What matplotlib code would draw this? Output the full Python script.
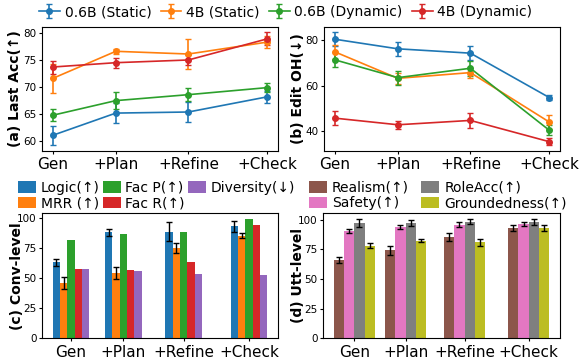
import numpy as np
import matplotlib.pyplot as plt

stages = ['Gen', '+Plan', '+Refine', '+Check']
xpos = np.array([0, 1, 2.15, 3.4])

# line panels: (mean, err) per model setting
series_names = ['0.6B (Static)', '4B (Static)', '0.6B (Dynamic)', '4B (Dynamic)']
series_colors = ['C0', 'C1', 'C2', 'C3']

acc_mean = [[61.1, 65.2, 65.4, 68.2],
            [71.6, 76.6, 76.1, 78.3],
            [64.8, 67.5, 68.6, 69.9],
            [73.7, 74.5, 75.0, 78.9]]
acc_err = [[1.8, 1.8, 1.8, 1.1],
           [2.7, 0.5, 2.8, 1.1],
           [1.1, 1.5, 1.2, 0.8],
           [1.2, 0.9, 1.0, 1.2]]

oh_mean = [[80.3, 76.1, 74.2, 54.8],
           [74.8, 63.2, 65.7, 44.1],
           [71.3, 63.5, 67.6, 40.5],
           [45.8, 42.9, 44.8, 35.5]]
oh_err = [[3.0, 3.0, 3.2, 1.2],
          [3.0, 2.5, 2.2, 3.0],
          [3.2, 3.1, 3.2, 2.2],
          [3.1, 1.8, 3.4, 1.6]]

# conversation-level bars
conv_names = ['Logic(↑)', 'MRR (↑)', 'Fac P(↑)', 'Fac R(↑)', 'Diversity(↓)']
conv_vals = [[63.3, 88.1, 88.9, 93.1],
             [45.9, 54.3, 75.4, 85.5],
             [82.2, 87.2, 88.9, 99.1],
             [57.7, 56.8, 63.6, 94.0],
             [57.7, 56.0, 53.5, 52.7]]
conv_err = [[2.8, 3.0, 8.0, 4.9],
            [4.9, 5.3, 4.0, 2.3],
            None, None, None]

# utterance-level bars
utt_names = ['Realism(↑)', 'Safety(↑)', 'RoleAcc(↑)', 'Groundedness(↑)']
utt_vals = [[65.6, 74.3, 85.3, 92.9],
            [90.6, 93.8, 95.7, 96.3],
            [97.1, 97.1, 98.0, 98.0],
            [78.0, 82.2, 80.8, 92.9]]
utt_err = [[2.5, 3.7, 3.4, 2.5],
           [1.7, 1.7, 2.3, 1.7],
           [3.0, 2.8, 2.1, 2.3],
           [2.3, 1.4, 3.1, 2.3]]

W, H = 582, 363
fig = plt.figure(figsize=(W / 100, H / 100), dpi=100)

def box(l, t, r, b):
    return [l / W, 1 - b / H, (r - l) / W, (b - t) / H]

ax_a = fig.add_axes(box(42, 26.7, 278, 150.7))
ax_b = fig.add_axes(box(324, 26.7, 560, 151))
ax_c = fig.add_axes(box(42, 213.3, 278, 338.3))
ax_d = fig.add_axes(box(323, 213.3, 560, 338.3))

for ax, means, errs in [(ax_a, acc_mean, acc_err), (ax_b, oh_mean, oh_err)]:
    for name, c, m, e in zip(series_names, series_colors, means, errs):
        ax.errorbar(xpos, m, yerr=e, color=c, marker='o', ms=4, lw=1.2,
                    elinewidth=1.2, capsize=2.5, label=name)

ax_a.set_yticks([60, 65, 70, 75, 80])
ax_b.set_yticks([40, 60, 80])

w = 0.14
for i, (name, v, e) in enumerate(zip(conv_names, conv_vals, conv_err)):
    ax_c.bar(xpos + (i - 2) * w, v, w, yerr=e, color='C%d' % i, label=name,
             capsize=2, error_kw=dict(ecolor='black', elinewidth=1, capthick=1))

w = 0.2
for i, (name, v, e) in enumerate(zip(utt_names, utt_vals, utt_err)):
    ax_d.bar(xpos + (i - 1.5) * w, v, w, yerr=e, color='C%d' % (i + 5), label=name,
             capsize=2, error_kw=dict(ecolor='black', elinewidth=1, capthick=1))

for ax in [ax_c, ax_d]:
    ax.set_yticks([0, 25, 50, 75, 100])

for ax in [ax_a, ax_b, ax_c, ax_d]:
    ax.set_xticks(xpos)
    ax.set_xticklabels(stages, fontsize=11)
    ax.tick_params(axis='y', labelsize=7.5, length=2.5, pad=1.5)
    ax.tick_params(axis='x', length=2.5, pad=2)

labels = [(ax_a, '(a) Last Acc(↑)', -0.085), (ax_b, '(b) Edit OH(↓)', -0.08),
          (ax_c, '(c) Conv-level', -0.075), (ax_d, '(d) Utt-level', -0.076)]
for ax, txt, lx in labels:
    ax.set_ylabel(txt, fontsize=10, fontweight='bold')
    ax.yaxis.set_label_coords(lx, 0.5)

h, l = ax_a.get_legend_handles_labels()
fig.legend(h, l, loc='center', bbox_to_anchor=(0.491, 1 - 12 / H), ncol=4,
           frameon=False, fontsize=10, handlelength=1.5, handletextpad=0.35,
           columnspacing=0.65, borderpad=0)

ax_c.legend(loc='center left', bbox_to_anchor=(18 / W, 1 - 195.5 / H),
            bbox_transform=fig.transFigure, ncol=3, frameon=False, fontsize=10,
            handlelength=1.3, handleheight=0.85, handletextpad=0.35,
            columnspacing=0.2, labelspacing=0.1, borderpad=0, borderaxespad=0)
ax_d.legend(loc='center left', bbox_to_anchor=(309 / W, 1 - 195.5 / H),
            bbox_transform=fig.transFigure, ncol=2, frameon=False, fontsize=10,
            handlelength=1.3, handleheight=0.85, handletextpad=0.35,
            columnspacing=0.9, labelspacing=0.1, borderpad=0, borderaxespad=0)

fig.savefig('out.png', dpi=100)
